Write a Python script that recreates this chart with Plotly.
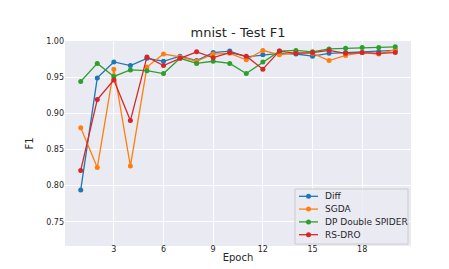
import plotly.graph_objects as go

epochs = list(range(1, 21))
diff = [0.794, 0.949, 0.971, 0.966, 0.976, 0.972, 0.979, 0.973, 0.984, 0.986,
        0.978, 0.981, 0.983, 0.982, 0.979, 0.983, 0.984, 0.984, 0.985, 0.987]
sgda = [0.880, 0.825, 0.961, 0.827, 0.964, 0.982, 0.978, 0.972, 0.982, 0.983,
        0.974, 0.987, 0.981, 0.984, 0.983, 0.973, 0.980, 0.984, 0.982, 0.988]
dp_spider = [0.944, 0.969, 0.951, 0.960, 0.959, 0.955, 0.976, 0.969, 0.972, 0.969,
             0.955, 0.971, 0.986, 0.987, 0.985, 0.989, 0.990, 0.991, 0.991, 0.992]
rs_dro = [0.821, 0.919, 0.946, 0.890, 0.978, 0.966, 0.976, 0.985, 0.977, 0.984,
          0.979, 0.961, 0.986, 0.983, 0.984, 0.987, 0.983, 0.984, 0.983, 0.984]
x_ticks = [3, 6, 9, 12, 15, 18]
y_ticks = [0.75, 0.80, 0.85, 0.90, 0.95, 1.00]

series = [("Diff", diff, "#1f77b4"), ("SGDA", sgda, "#ff7f0e"),
          ("DP Double SPIDER", dp_spider, "#2ca02c"), ("RS-DRO", rs_dro, "#d62728")]

W, H = 449, 269
ML, MR, MT, MB = 57, 46, 33, 31
PW, PH = W - ML - MR, H - MT - MB

def px(xp):
    return (xp - ML) / PW

def py(yp):
    return (H - MB - yp) / PH

fig = go.Figure()
for name, vals, col in series:
    fig.add_trace(go.Scatter(x=epochs, y=vals, name=name, mode="lines+markers",
                             line=dict(color=col, width=1.3),
                             marker=dict(color=col, size=5),
                             showlegend=False))

# custom legend (matplotlib-style compact legend)
shapes = [dict(type="rect", xref="paper", yref="paper",
               x0=px(287), x1=px(400), y0=py(236), y1=py(181),
               fillcolor="rgba(234,234,242,0.8)", line=dict(color="#cccccc", width=1),
               layer="above")]
annotations = []
row_y0, row_dy = 188.3, 12.8
for i, (name, vals, col) in enumerate(series):
    yy = row_y0 + i * row_dy
    shapes.append(dict(type="line", xref="paper", yref="paper",
                       x0=px(291), x1=px(310), y0=py(yy), y1=py(yy),
                       line=dict(color=col, width=1.3), layer="above"))
    shapes.append(dict(type="circle", xref="paper", yref="paper",
                       x0=px(300.5 - 2.5), x1=px(300.5 + 2.5),
                       y0=py(yy + 2.5), y1=py(yy - 2.5),
                       fillcolor=col, line=dict(color=col, width=0), layer="above"))
    annotations.append(dict(text=name, xref="paper", yref="paper",
                            x=px(315), y=py(yy), xanchor="left", yanchor="middle",
                            showarrow=False, font=dict(size=9, color="#262626")))

font = "DejaVu Sans"
fig.update_layout(
    width=W, height=H,
    margin=dict(l=ML, r=MR, t=MT, b=MB),
    paper_bgcolor="white", plot_bgcolor="#EAEAF2",
    font=dict(family=font, color="#262626", size=8),
    title=dict(text="mnist - Test F1", x=0.5, xref="paper", xanchor="center",
               y=1 - 24 / H, yref="container", yanchor="middle",
               font=dict(size=13, color="#262626")),
    showlegend=False,
    shapes=shapes,
    annotations=annotations,
)
fig.update_xaxes(range=[0.05, 20.95], tickvals=x_ticks,
                 showgrid=True, gridcolor="white", gridwidth=1, zeroline=False,
                 showline=False, ticks="", ticklen=0, ticklabelstandoff=-3,
                 title=dict(text="Epoch", font=dict(size=10), standoff=0))
fig.update_yaxes(range=[0.7165, 1.0], tickvals=y_ticks,
                 tickformat=".2f", showgrid=True, gridcolor="white", gridwidth=1,
                 zeroline=False, showline=False, ticks="", ticklen=0,
                 title=dict(text="F1", font=dict(size=10), standoff=10))

fig.write_html("out.html")
